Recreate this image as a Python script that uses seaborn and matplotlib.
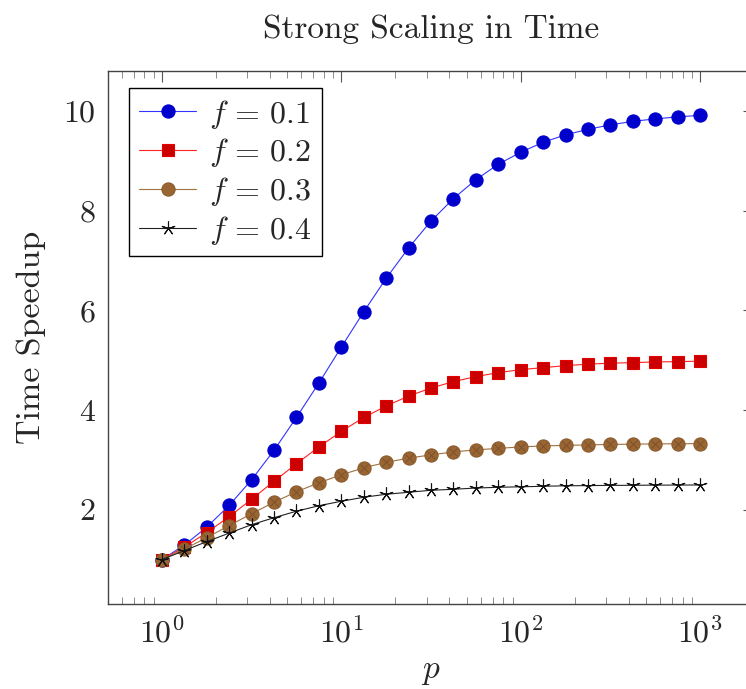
import numpy as np
import pandas as pd
import matplotlib
matplotlib.use("Agg")
import matplotlib.pyplot as plt
import seaborn as sns
from matplotlib.lines import Line2D

# --- data (p on a log grid, 8 points per decade) ---
p_values = [1.0, 1.334, 1.778, 2.371, 3.162, 4.217, 5.623, 7.499, 10.0,
            13.34, 17.78, 23.71, 31.62, 42.17, 56.23, 74.99, 100.0,
            133.4, 177.8, 237.1, 316.2, 421.7, 562.3, 749.9, 1000.0]

speedup_f01 = [1.0, 1.29, 1.65, 2.085, 2.6, 3.19, 3.85, 4.54, 5.26,
               5.97, 6.64, 7.25, 7.79, 8.24, 8.62, 8.93, 9.17,
               9.37, 9.52, 9.63, 9.72, 9.79, 9.84, 9.88, 9.91]
speedup_f02 = [1.0, 1.25, 1.54, 1.86, 2.21, 2.57, 2.92, 3.26, 3.57,
               3.85, 4.08, 4.28, 4.44, 4.57, 4.67, 4.75, 4.81,
               4.85, 4.89, 4.92, 4.94, 4.95, 4.965, 4.97, 4.98]
speedup_f03 = [1.0, 1.21, 1.44, 1.68, 1.92, 2.15, 2.36, 2.54, 2.70,
               2.84, 2.95, 3.035, 3.10, 3.16, 3.20, 3.23, 3.26,
               3.28, 3.29, 3.30, 3.31, 3.315, 3.32, 3.323, 3.326]
speedup_f04 = [1.0, 1.18, 1.36, 1.53, 1.70, 1.84, 1.97, 2.08, 2.17,
               2.25, 2.31, 2.35, 2.39, 2.41, 2.435, 2.45, 2.46,
               2.47, 2.48, 2.484, 2.488, 2.49, 2.493, 2.495, 2.496]

series_labels = ["0.1", "0.2", "0.3", "0.4"]

df = pd.concat([
    pd.DataFrame({"p": p_values, "speedup": vals, "f": lab})
    for lab, vals in zip(series_labels, [speedup_f01, speedup_f02, speedup_f03, speedup_f04])
])

# --- style ---
sns.set_theme(style="white")
plt.rcParams["font.family"] = "serif"
plt.rcParams["font.serif"] = ["cmr10", "DejaVu Serif"]
plt.rcParams["mathtext.fontset"] = "cm"
plt.rcParams["axes.formatter.use_mathtext"] = True

# line colour, marker fill, marker, size
styles = {
    "0.1": dict(color="#3333FF", mfc="#0000CC", mec="#0000CC", marker="o", ms=9.5),
    "0.2": dict(color="#FF2222", mfc="#CC0000", mec="#E00000", marker="s", ms=9),
    "0.3": dict(color="#A0703F", mfc="#996633", mec="#8A5C2E", marker="o", ms=9.5),
    "0.4": dict(color="#222222", mfc="none", mec="#111111", marker=(5, 2, 0), ms=10),
}

fig = plt.figure(figsize=(7.46, 6.89), dpi=100)
# right edge of the axes box falls just outside the picture, as in the reference
ax = fig.add_axes([108 / 746, 1 - 604 / 689, 646 / 746, 533 / 689])

handles = []
for lab in series_labels:
    st = styles[lab]
    sub = df[df["f"] == lab]
    sns.lineplot(data=sub, x="p", y="speedup", ax=ax, color=st["color"], lw=0.8,
                 marker=st["marker"], markersize=st["ms"], markerfacecolor=st["mfc"],
                 markeredgecolor=st["mec"], markeredgewidth=0.8, legend=False)
    if lab == "0.3":
        # otimes marks: cross drawn over the filled circle
        ax.plot(sub["p"], sub["speedup"], ls="none", marker="x", ms=5.5,
                mec="#6B4523", mew=0.6, alpha=0.7)
    handles.append(Line2D([], [], color=st["color"], lw=0.8, marker=st["marker"],
                          markersize=st["ms"], markerfacecolor=st["mfc"],
                          markeredgecolor=st["mec"], markeredgewidth=0.8,
                          label=rf"$f\,=\,{lab}$"))

ax.set_xscale("log")
ax.set_xlim(10 ** -0.3, 10 ** 3.3)
ax.set_ylim(0.109, 10.8)
ax.set_yticks([2, 4, 6, 8, 10])
ax.set_xticks([1, 10, 100, 1000])

ax.tick_params(axis="both", which="major", direction="in", length=8, width=0.8,
               color="#555555", top=True, right=True, labelsize=23, pad=9)
ax.tick_params(axis="x", which="minor", direction="in", length=5, width=0.6,
               color="#777777", top=True, bottom=True)
ax.tick_params(axis="y", which="minor", left=False, right=False)

for sp in ax.spines.values():
    sp.set_color("#444444")
    sp.set_linewidth(1.0)
ax.spines["right"].set_visible(False)  # lies beyond the cropped edge

ax.set_xlabel("$p$", fontsize=24, labelpad=7)
ax.set_ylabel("Time Speedup", fontsize=24.5, labelpad=12)
ax.set_title("Strong Scaling in Time", fontsize=24, pad=24)

leg = ax.legend(handles=handles, loc="upper left", bbox_to_anchor=(0.033, 0.968),
                borderaxespad=0, fontsize=23, frameon=True, fancybox=False,
                edgecolor="black", framealpha=1, handlelength=1.8,
                handletextpad=0.4, labelspacing=0.18, borderpad=0.3)
leg.get_frame().set_linewidth(1.0)

fig.savefig("out.png", dpi=100)
